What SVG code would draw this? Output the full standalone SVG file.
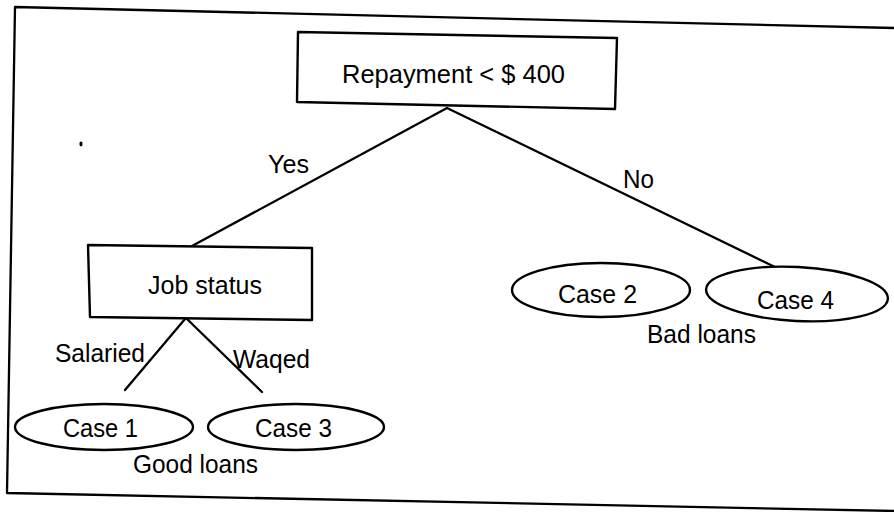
<svg xmlns="http://www.w3.org/2000/svg" width="894" height="512" viewBox="0 0 894 512">
  <style>
    .ln { fill: none; stroke: #000; stroke-width: 2.3; stroke-linejoin: round; stroke-linecap: round; }
    .box { fill: #fff; stroke: #000; stroke-width: 2.4; stroke-linejoin: round; }
    .leaf { fill: #fff; stroke: #000; stroke-width: 2.4; }
    .t { font-family: "Liberation Sans", Arial, Helvetica, sans-serif; font-size: 26.5px; fill: #000; }
  </style>
  <rect width="894" height="512" fill="#fff"/>

  <!-- outer frame (open on the right) -->
  <path class="ln" d="M894 28 L15 7 L7 493 L894 511" stroke-width="2.7"/>
  <ellipse cx="81" cy="144" rx="1.6" ry="2.4" fill="#000"/>

  <!-- connectors -->
  <g id="connectors">
    <line class="ln" x1="447" y1="108" x2="192" y2="246"/>
    <line class="ln" x1="447" y1="108" x2="777" y2="268"/>
    <line class="ln" x1="185" y1="319" x2="125" y2="390"/>
    <line class="ln" x1="187" y1="319" x2="262" y2="392"/>
    <text class="t" x="268" y="173" font-size="27.5" textLength="41" lengthAdjust="spacingAndGlyphs">Yes</text>
    <text class="t" x="623" y="188" textLength="31" lengthAdjust="spacingAndGlyphs">No</text>
    <text class="t" x="55" y="362" textLength="90" lengthAdjust="spacingAndGlyphs">Salaried</text>
    <text class="t" x="233" y="368" textLength="77" lengthAdjust="spacingAndGlyphs">Waqed</text>
  </g>

  <!-- root test -->
  <g id="repayment">
    <polygon class="box" points="298,32 617,38 615,109 297,102"/>
    <text class="t" x="342" y="83" font-size="29" textLength="223" lengthAdjust="spacingAndGlyphs">Repayment &lt; $ 400</text>
  </g>

  <!-- second test -->
  <g id="job-status">
    <polygon class="box" points="88,245 312,248 312,320 90,317"/>
    <text class="t" x="148" y="294" textLength="114" lengthAdjust="spacingAndGlyphs">Job status</text>
  </g>

  <!-- leaves -->
  <g id="case1">
    <ellipse class="leaf" cx="104" cy="427" rx="89" ry="23"/>
    <text class="t" x="63" y="437" textLength="75" lengthAdjust="spacingAndGlyphs">Case 1</text>
  </g>
  <g id="case3">
    <ellipse class="leaf" cx="296" cy="427" rx="88" ry="23"/>
    <text class="t" x="255" y="437" textLength="77" lengthAdjust="spacingAndGlyphs">Case 3</text>
  </g>
  <g id="case2">
    <ellipse class="leaf" cx="601" cy="290" rx="89" ry="27"/>
    <text class="t" x="558" y="303" textLength="79" lengthAdjust="spacingAndGlyphs">Case 2</text>
  </g>
  <g id="case4">
    <ellipse class="leaf" cx="797" cy="294" rx="91" ry="27" transform="rotate(3 797 294)"/>
    <text class="t" x="757" y="309" textLength="77" lengthAdjust="spacingAndGlyphs">Case 4</text>
  </g>

  <!-- group captions -->
  <g id="good-loans">
    <text class="t" x="133" y="473" textLength="125" lengthAdjust="spacingAndGlyphs">Good loans</text>
  </g>
  <g id="bad-loans">
    <text class="t" x="647" y="343" textLength="109" lengthAdjust="spacingAndGlyphs">Bad loans</text>
  </g>
</svg>
